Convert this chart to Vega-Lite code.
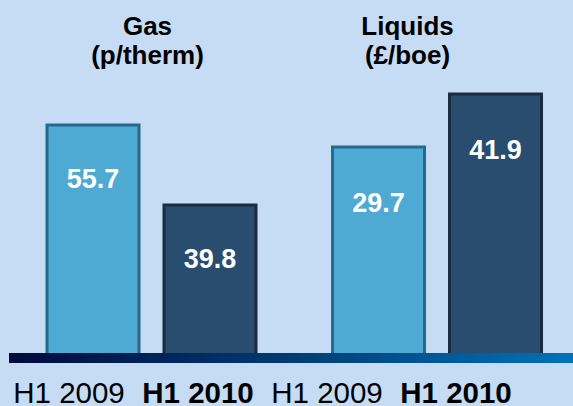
{
  "$schema": "https://vega.github.io/schema/vega-lite/v6.json",
  "background": "#c6dcf5",
  "padding": {"left": 9, "top": 0, "right": 0, "bottom": 0},
  "spacing": 0,
  "bounds": "flush",
  "config": {"view": {"stroke": null}, "font": "Liberation Sans"},
  "datasets": {
    "prices": [
      {"group": "Gas", "period": "H1 2009", "value": 55.7},
      {"group": "Gas", "period": "H1 2010", "value": 39.8},
      {"group": "Liquids", "period": "H1 2009", "value": 29.7},
      {"group": "Liquids", "period": "H1 2010", "value": 41.9}
    ],
    "titles": [
      {"group": "Gas", "unit": "(p/therm)"},
      {"group": "Liquids", "unit": "(£/boe)"}
    ],
    "baseline": [{"name": "axis"}]
  },
  "vconcat": [
    {
      "width": 564,
      "height": 80,
      "data": {"name": "titles"},
      "encoding": {
        "x": {"field": "group", "type": "nominal", "scale": {"type": "point", "domain": ["Gas", "Liquids"], "padding": 0.5846, "align": 0.4556, "round": false}, "axis": null}
      },
      "layer": [
        {
          "mark": {"type": "text", "fontSize": 26, "fontWeight": "bold", "color": "#000000", "baseline": "alphabetic", "dy": -5},
          "encoding": {"text": {"field": "group"}}
        },
        {
          "mark": {"type": "text", "fontSize": 26, "fontWeight": "bold", "color": "#000000", "baseline": "alphabetic", "dy": 24},
          "encoding": {"text": {"field": "unit"}}
        }
      ]
    },
    {
      "width": 564,
      "height": 273,
      "data": {"name": "prices"},
      "encoding": {
        "x": {"field": "group", "type": "nominal", "scale": {"domain": ["Gas", "Liquids"], "paddingInner": 0.268, "paddingOuter": 0.1217, "align": 0.547, "round": false}, "axis": null},
        "xOffset": {"field": "period", "type": "nominal", "scale": {"domain": ["H1 2009", "H1 2010"], "paddingInner": 0.2137, "paddingOuter": 0, "round": false}},
        "fill": {"field": "period", "type": "nominal", "scale": {"domain": ["H1 2009", "H1 2010"], "range": ["#4eaad2", "#284d6e"]}, "legend": null},
        "stroke": {"field": "period", "type": "nominal", "scale": {"domain": ["H1 2009", "H1 2010"], "range": ["#256a8d", "#1a2c3e"]}, "legend": null}
      },
      "layer": [
        {
          "transform": [{"filter": "datum.group === 'Gas'"}],
          "mark": {"type": "bar", "strokeWidth": 3},
          "encoding": {
            "y": {"field": "value", "type": "quantitative", "scale": {"domain": [10.38, 64.64], "zero": false}, "axis": null},
            "y2": {"datum": 10.0}
          }
        },
        {
          "transform": [{"filter": "datum.group === 'Gas'"}],
          "mark": {"type": "text", "fontSize": 27, "fontWeight": "bold", "baseline": "alphabetic", "dy": 63},
          "encoding": {
            "y": {"field": "value", "type": "quantitative", "scale": {"domain": [10.38, 64.64], "zero": false}, "axis": null},
            "text": {"field": "value", "type": "quantitative", "format": ".1f"},
            "fill": {"value": "#ffffff"},
            "stroke": {"value": null}
          }
        },
        {
          "transform": [{"filter": "datum.group === 'Liquids'"}],
          "mark": {"type": "bar", "strokeWidth": 3},
          "encoding": {
            "y": {"field": "value", "type": "quantitative", "scale": {"domain": [-17.72, 45.12], "zero": false}, "axis": null},
            "y2": {"datum": -18.2}
          }
        },
        {
          "transform": [{"filter": "datum.group === 'Liquids'"}],
          "mark": {"type": "text", "fontSize": 27, "fontWeight": "bold", "baseline": "alphabetic", "dy": 65},
          "encoding": {
            "y": {"field": "value", "type": "quantitative", "scale": {"domain": [-17.72, 45.12], "zero": false}, "axis": null},
            "text": {"field": "value", "type": "quantitative", "format": ".1f"},
            "fill": {"value": "#ffffff"},
            "stroke": {"value": null}
          }
        }
      ],
      "resolve": {"scale": {"y": "independent"}}
    },
    {
      "width": 564,
      "height": 10,
      "data": {"name": "baseline"},
      "mark": {
        "type": "rect",
        "fill": {
          "gradient": "linear", "x1": 0, "y1": 0, "x2": 1, "y2": 0,
          "stops": [
            {"offset": 0, "color": "#000a3c"},
            {"offset": 0.5, "color": "#003c74"},
            {"offset": 1, "color": "#0072ba"}
          ]
        }
      },
      "encoding": {}
    },
    {
      "width": 564,
      "height": 43,
      "data": {"name": "prices"},
      "encoding": {
        "x": {"field": "value", "type": "nominal", "scale": {"type": "point", "domain": [55.7, 39.8, 29.7, 41.9], "padding": 0.686, "align": 0.339, "round": false}, "axis": null},
        "text": {"field": "period"}
      },
      "layer": [
        {
          "transform": [{"filter": "datum.period === 'H1 2009'"}],
          "mark": {"type": "text", "fontSize": 29.5, "fontWeight": "normal", "color": "#000000", "baseline": "alphabetic", "dy": 18.5}
        },
        {
          "transform": [{"filter": "datum.period === 'H1 2010'"}],
          "mark": {"type": "text", "fontSize": 29.5, "fontWeight": "bold", "color": "#000000", "baseline": "alphabetic", "dy": 18.5}
        }
      ]
    }
  ]
}
